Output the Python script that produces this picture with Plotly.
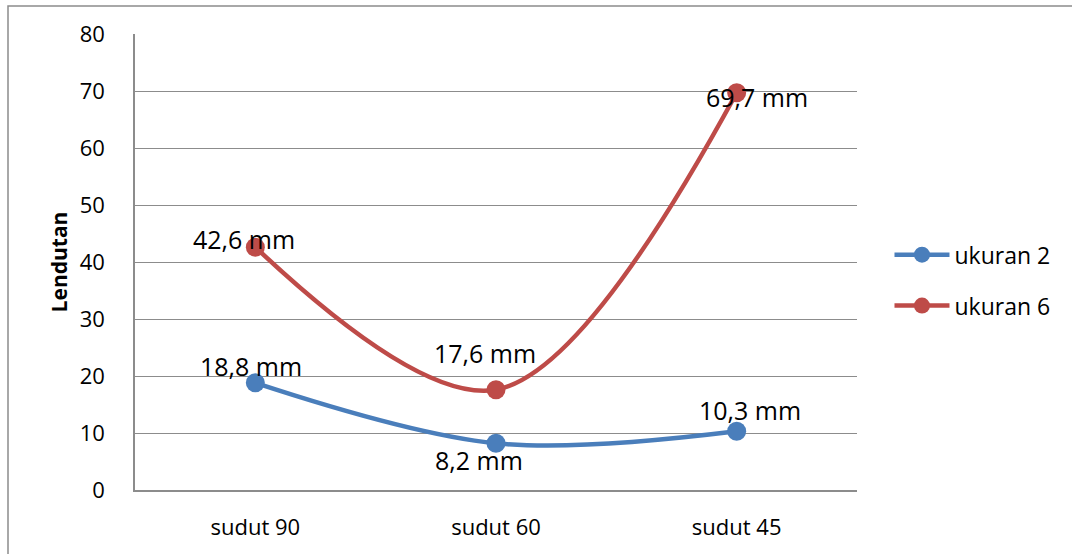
import plotly.graph_objects as go

# Categories and measured deflection (mm)
categories = ["sudut 90", "sudut 60", "sudut 45"]
ukuran_2 = [18.8, 8.2, 10.3]
ukuran_6 = [42.6, 17.6, 69.7]
y_ticks = [0, 10, 20, 30, 40, 50, 60, 70, 80]

BLUE = "#4A7EBB"
RED = "#BE4B48"
GRID = "#8C8C8C"
FONT = "Open Sans"


def fmt(v):
    return f"{v:.1f}".replace(".", ",") + " mm"


fig = go.Figure()
for name, vals, col in [("ukuran 2", ukuran_2, BLUE), ("ukuran 6", ukuran_6, RED)]:
    fig.add_trace(go.Scatter(
        x=categories, y=vals, name=name, legendgroup=name, mode="lines+markers",
        line=dict(color=col, width=4.5, shape="spline", smoothing=1.0),
        marker=dict(color=col, size=19),
    ))

# value labels, offset per point
offsets_2 = [(-4, 17), (-17, -17), (13, 21)]
offsets_6 = [(-11, 8), (-11, 37), (20, -4)]
for vals, offs in [(ukuran_2, offsets_2), (ukuran_6, offsets_6)]:
    for cat, v, (dx, dy) in zip(categories, vals, offs):
        fig.add_annotation(
            x=cat, y=v, text=fmt(v), showarrow=False,
            xshift=dx, yshift=dy,
            font=dict(family=FONT, size=25, color="#000000"),
        )

# chart border
fig.add_shape(type="rect", xref="paper", yref="paper",
              x0=-0.1759, x1=1.6, y0=-0.3, y1=1.0614,
              line=dict(color=GRID, width=1.5), layer="below")

fig.update_layout(
    width=1072, height=554,
    margin=dict(l=135, r=215, t=34, b=64),
    paper_bgcolor="white", plot_bgcolor="white",
    font=dict(family=FONT, color="#000000"),
    showlegend=True,
    legend=dict(
        x=1.045, y=0.46, xanchor="left", yanchor="middle",
        font=dict(family=FONT, size=23, color="#000000"),
        tracegroupgap=18, itemwidth=55,
    ),
    xaxis=dict(
        type="category", range=[-0.5, 2.5],
        showgrid=False, showline=True, linecolor=GRID, linewidth=1.5,
        ticks="", tickfont=dict(family=FONT, size=22),
        ticklabelstandoff=17,
    ),
    yaxis=dict(
        range=[0, 80], tickvals=y_ticks, ticktext=[str(t) for t in y_ticks],
        showgrid=True, gridcolor=GRID, gridwidth=1.2,
        showline=True, linecolor=GRID, linewidth=1.5,
        zeroline=False, ticks="",
        tickfont=dict(family=FONT, size=22),
        ticklabelstandoff=24,
        title=dict(text="<b>Lendutan</b>", font=dict(family=FONT, size=21), standoff=6),
    ),
)

fig.write_html("out.html")
